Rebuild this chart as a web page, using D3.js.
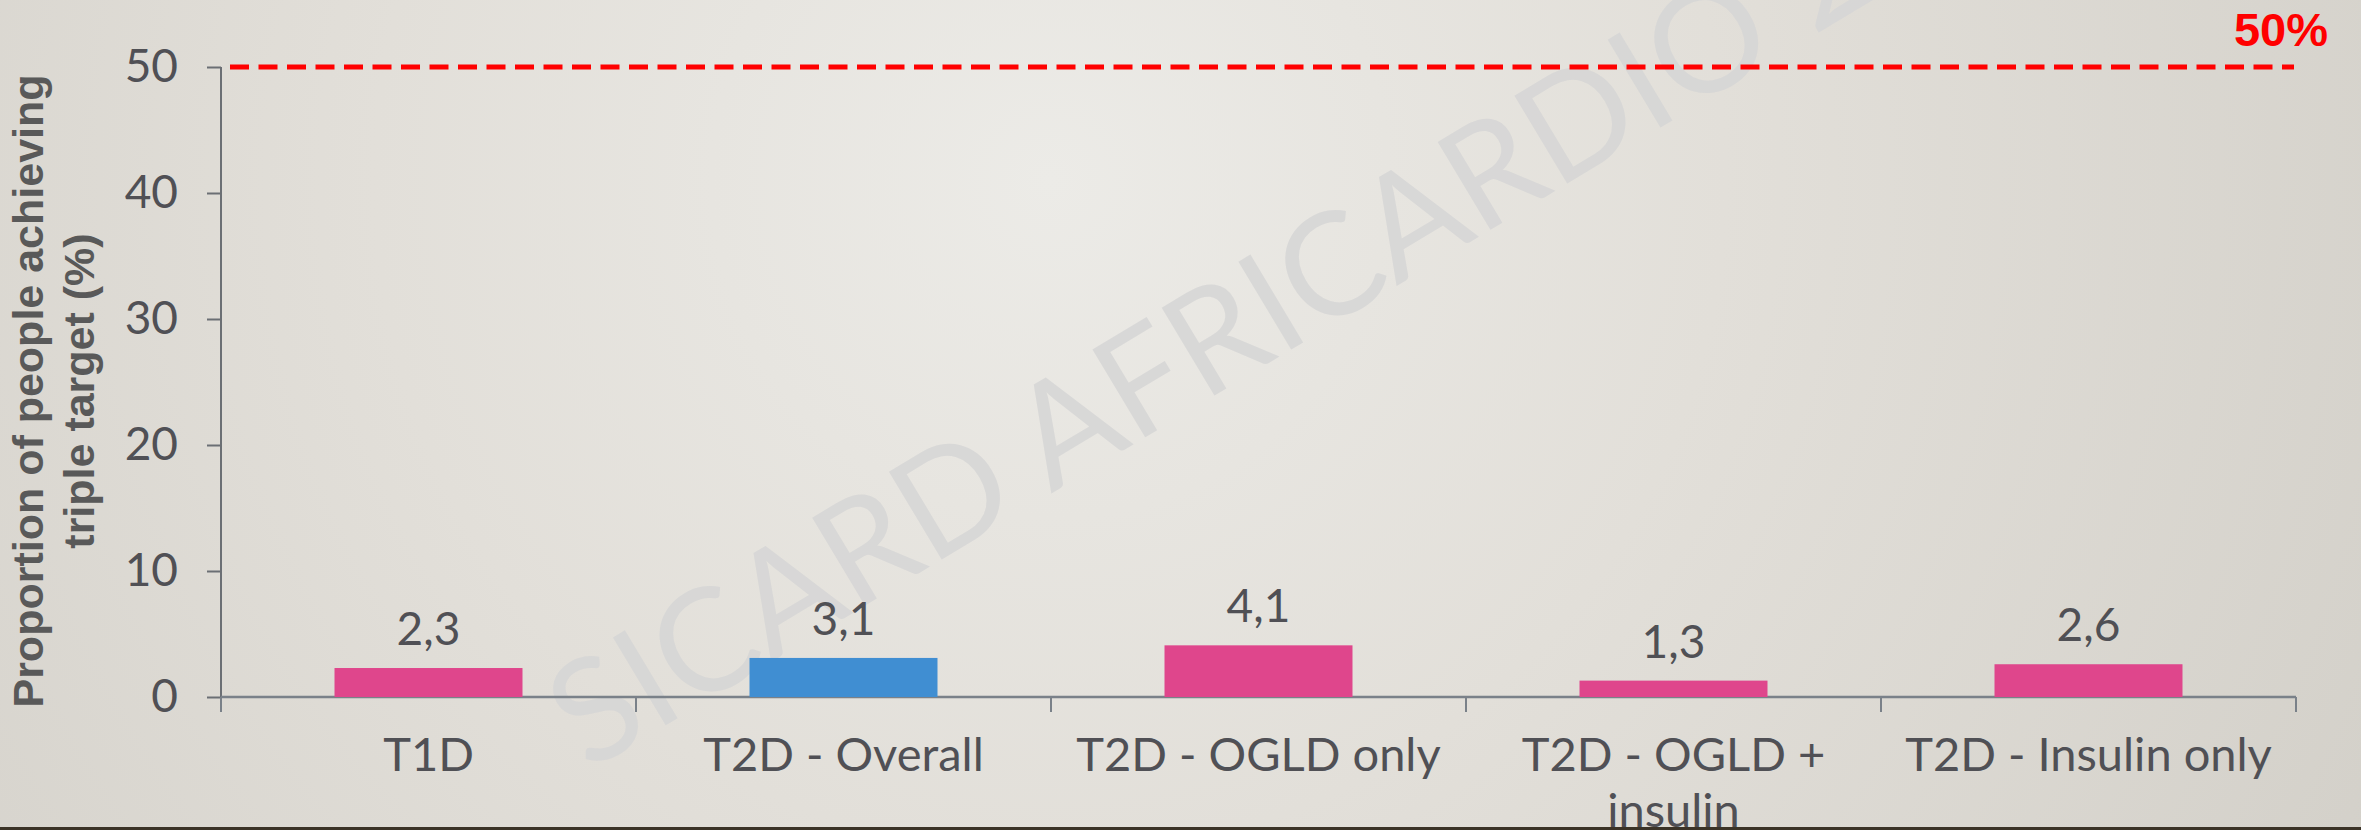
<!DOCTYPE html>
<html>
<head>
<meta charset="utf-8">
<script src="https://cdn.jsdelivr.net/npm/d3@7"></script>
<style>
  html, body { margin: 0; padding: 0; overflow: hidden; }
  #chart { width: 2361px; height: 830px; }
</style>
</head>
<body>
<div id="chart"></div>
<script>
// data
const categories = ['T1D', 'T2D - Overall', 'T2D - OGLD only', 'T2D - OGLD + insulin', 'T2D - Insulin only'];
const values = [2.3, 3.1, 4.1, 1.3, 2.6];
const highlighted = ['T2D - Overall'];
const yTicks = [0, 10, 20, 30, 40, 50];
const target = 50;
const targetLabel = '50%';
const yTitle = ['Proportion of people achieving', 'triple target (%)'];
const watermark = 'SICARD AFRICARDIO 2024';

const W = 2361, H = 830;
const margin = { top: 67, right: 65, bottom: 133, left: 221 };
const width = W - margin.left - margin.right;
const height = H - margin.top - margin.bottom;

const textColour = '#505055';
const pink = '#df468c';
const blue = '#408ed2';

const commaFormat = d3.formatLocale({ decimal: ',', thousands: '.', grouping: [3], currency: ['', ''] }).format('.1f');

const $svg = d3.select('#chart').append('svg')
  .attr('width', W)
  .attr('height', H);

// slide background
const defs = $svg.append('defs');
const grad = defs.append('radialGradient')
  .attr('id', 'bg')
  .attr('gradientUnits', 'userSpaceOnUse')
  .attr('cx', 1050).attr('cy', 180).attr('r', 1500);
grad.append('stop').attr('offset', '0%').attr('stop-color', '#ecebe7');
grad.append('stop').attr('offset', '45%').attr('stop-color', '#e2dfd9');
grad.append('stop').attr('offset', '100%').attr('stop-color', '#d3d0c9');

$svg.append('rect')
  .attr('width', W).attr('height', H)
  .attr('fill', 'url(#bg)');

$svg.append('rect')
  .attr('x', 0).attr('y', 827)
  .attr('width', W).attr('height', 3)
  .attr('fill', '#3b3327');

// watermark
$svg.append('text')
  .attr('transform', 'translate(588, 772) rotate(-31)')
  .attr('font-family', 'Lato, sans-serif')
  .attr('font-weight', 400)
  .attr('font-size', 143)
  .attr('fill', '#d6d6d6')
  .attr('opacity', 0.85)
  .text(watermark);

const $plot = $svg.append('g')
  .attr('transform', `translate(${margin.left}, ${margin.top})`);

// scales
const x = d3.scaleBand()
  .domain(categories)
  .range([0, width])
  .padding(0);

const y = d3.scaleLinear()
  .domain([0, 50])
  .range([height, 0]);

const barWidth = x.bandwidth() * 0.453;

// y axis
const yAxis = d3.axisLeft(y)
  .tickValues(yTicks)
  .tickSize(14)
  .tickPadding(29);

$plot.append('g')
  .attr('class', 'axis y')
  .call(yAxis)
  .call(g => g.select('.domain').remove())
  .call(g => g.selectAll('.tick line').attr('stroke', '#6b6f74').attr('stroke-width', 2))
  .call(g => g.selectAll('.tick text')
    .attr('fill', textColour)
    .attr('font-family', 'Lato, sans-serif')
    .attr('font-size', 46));

$plot.append('line')
  .attr('x1', 0).attr('x2', 0)
  .attr('y1', 0).attr('y2', height + 15)
  .attr('stroke', '#6b6f74')
  .attr('stroke-width', 2);

// x axis: labels at band centres, ticks at band edges
const xAxis = d3.axisBottom(x)
  .tickSize(0)
  .tickPadding(41);

const $xAxis = $plot.append('g')
  .attr('class', 'axis x')
  .attr('transform', `translate(0, ${height})`)
  .call(xAxis)
  .call(g => g.select('.domain').remove());

$xAxis.selectAll('.tick text')
  .attr('fill', textColour)
  .attr('font-family', 'Lato, sans-serif')
  .attr('font-size', 47)
  .attr('dy', '0.71em')
  .call(wrap, 400);

$xAxis.append('line')
  .attr('x1', 0).attr('x2', width)
  .attr('stroke', '#7a8189')
  .attr('stroke-width', 2.5);

$xAxis.selectAll('.edge')
  .data(categories.concat(['end']))
  .enter()
  .append('line')
  .attr('class', 'edge')
  .attr('x1', (d, i) => i * x.step())
  .attr('x2', (d, i) => i * x.step())
  .attr('y1', 0)
  .attr('y2', 15)
  .attr('stroke', '#7a8189')
  .attr('stroke-width', 2);

// bars
const bars = categories.map((name, i) => ({ name, value: values[i] }));

$plot.append('g')
  .attr('class', 'bars')
  .selectAll('rect')
  .data(bars)
  .enter()
  .append('rect')
  .attr('x', d => x(d.name) + (x.bandwidth() - barWidth) / 2)
  .attr('y', d => y(d.value))
  .attr('width', barWidth)
  .attr('height', d => height - y(d.value))
  .attr('fill', d => highlighted.includes(d.name) ? blue : pink);

$plot.append('g')
  .attr('class', 'bar-labels')
  .selectAll('text')
  .data(bars)
  .enter()
  .append('text')
  .attr('x', d => x(d.name) + x.bandwidth() / 2)
  .attr('y', d => y(d.value) - 23)
  .attr('text-anchor', 'middle')
  .attr('fill', textColour)
  .attr('font-family', 'Lato, sans-serif')
  .attr('font-size', 46)
  .text(d => commaFormat(d.value));

// target line
$plot.append('line')
  .attr('class', 'target')
  .attr('x1', 9)
  .attr('x2', width - 2)
  .attr('y1', y(target))
  .attr('y2', y(target))
  .attr('stroke', '#ff0000')
  .attr('stroke-width', 5)
  .attr('stroke-dasharray', '19, 9.5');

$svg.append('text')
  .attr('x', 2328)
  .attr('y', 46)
  .attr('text-anchor', 'end')
  .attr('fill', '#ff0000')
  .attr('font-family', '"Liberation Sans", Arial, sans-serif')
  .attr('font-weight', 700)
  .attr('font-size', 47)
  .text(targetLabel);

// y axis title
const $title = $svg.append('text')
  .attr('transform', 'translate(43, 391) rotate(-90)')
  .attr('text-anchor', 'middle')
  .attr('fill', '#595959')
  .attr('font-family', '"Liberation Sans", Arial, sans-serif')
  .attr('font-weight', 700)
  .attr('font-size', 43);

$title.selectAll('tspan')
  .data(yTitle)
  .enter()
  .append('tspan')
  .attr('x', 0)
  .attr('y', (d, i) => i * 51)
  .text(d => d);

function wrap(text, maxWidth) {
  text.each(function() {
    const t = d3.select(this);
    const words = t.text().split(/\s+/).reverse();
    const y0 = t.attr('y');
    const dy = parseFloat(t.attr('dy'));
    let line = [];
    let lineNumber = 0;
    let word;
    let tspan = t.text(null).append('tspan').attr('x', 0).attr('y', y0).attr('dy', dy + 'em');
    while ((word = words.pop())) {
      line.push(word);
      tspan.text(line.join(' '));
      if (tspan.node().getComputedTextLength() > maxWidth && line.length > 1) {
        line.pop();
        tspan.text(line.join(' '));
        line = [word];
        tspan = t.append('tspan')
          .attr('x', 0)
          .attr('y', y0)
          .attr('dy', (++lineNumber * 1.19 + dy) + 'em')
          .text(word);
      }
    }
  });
}
</script>
</body>
</html>
